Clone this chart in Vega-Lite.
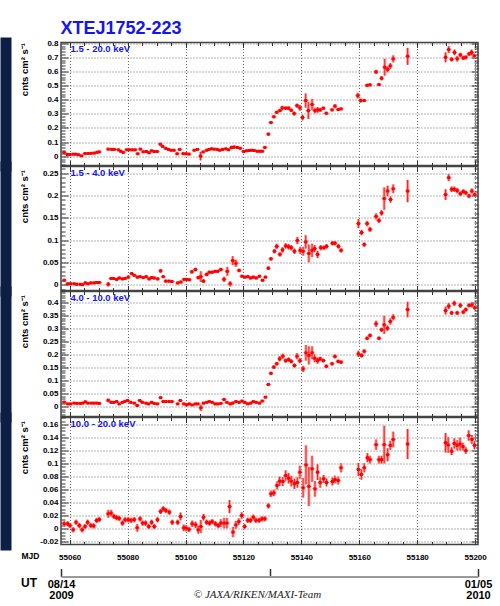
{
"$schema": "https://vega.github.io/schema/vega-lite/v6.json",
"background": "white",
"padding": {"left": 4, "top": 18.5, "right": 5, "bottom": 5},
"spacing": 1,
"bounds": "flush",
"datasets": {
"p1": [
{"t":55058.1,"r":0.026,"e":0.008},{"t":55059.2,"r":0.012,"e":0.008},{"t":55060.1,"r":0.012,"e":0.008},{"t":55061.2,"r":0.014,"e":0.008},{"t":55062.1,"r":0.014,"e":0.008},{"t":55063.0,"r":0.010,"e":0.008},{"t":55064.1,"r":0.002,"e":0.008},{"t":55065.3,"r":0.019,"e":0.008},{"t":55066.4,"r":0.019,"e":0.008},{"t":55067.4,"r":0.020,"e":0.008},{"t":55068.5,"r":0.022,"e":0.008},{"t":55069.5,"r":0.028,"e":0.008},{"t":55070.2,"r":0.030,"e":0.008},
{"t":55073.3,"r":0.050,"e":0.008},{"t":55074.5,"r":0.048,"e":0.008},{"t":55075.4,"r":0.048,"e":0.008},{"t":55076.8,"r":0.045,"e":0.008},{"t":55077.6,"r":0.035,"e":0.008},{"t":55078.5,"r":0.027,"e":0.008},{"t":55079.7,"r":0.045,"e":0.008},{"t":55080.6,"r":0.045,"e":0.008},{"t":55081.6,"r":0.045,"e":0.008},{"t":55082.6,"r":0.045,"e":0.008},{"t":55083.5,"r":0.017,"e":0.008},{"t":55084.4,"r":0.050,"e":0.008},{"t":55085.4,"r":0.031,"e":0.008},{"t":55086.5,"r":0.033,"e":0.008},{"t":55087.4,"r":0.024,"e":0.008},{"t":55088.3,"r":0.038,"e":0.008},{"t":55089.2,"r":0.033,"e":0.008},{"t":55090.2,"r":0.033,"e":0.008},
{"t":55091.3,"r":0.085,"e":0.008},{"t":55092.1,"r":0.069,"e":0.008},{"t":55093.2,"r":0.055,"e":0.008},{"t":55094.1,"r":0.048,"e":0.008},{"t":55095.0,"r":0.042,"e":0.008},{"t":55096.0,"r":0.042,"e":0.008},{"t":55097.1,"r":0.017,"e":0.008},{"t":55098.0,"r":0.048,"e":0.008},{"t":55099.2,"r":0.018,"e":0.008},{"t":55100.2,"r":0.017,"e":0.008},{"t":55101.2,"r":0.015,"e":0.008},
{"t":55103.0,"r":0.042,"e":0.008},{"t":55104.1,"r":0.048,"e":0.008},{"t":55105.2,"r":0.000,"e":0.03},{"t":55106.1,"r":0.030,"e":0.008},{"t":55107.3,"r":0.042,"e":0.008},{"t":55108.1,"r":0.048,"e":0.008},{"t":55109.0,"r":0.052,"e":0.008},{"t":55109.9,"r":0.050,"e":0.008},{"t":55110.9,"r":0.048,"e":0.008},{"t":55111.8,"r":0.042,"e":0.008},{"t":55112.8,"r":0.048,"e":0.008},{"t":55113.9,"r":0.052,"e":0.008},{"t":55114.8,"r":0.046,"e":0.008},{"t":55115.9,"r":0.062,"e":0.012},{"t":55116.8,"r":0.064,"e":0.012},{"t":55117.9,"r":0.062,"e":0.01},{"t":55118.9,"r":0.056,"e":0.008},{"t":55120.1,"r":0.033,"e":0.008},{"t":55121.0,"r":0.038,"e":0.008},{"t":55121.9,"r":0.040,"e":0.008},{"t":55122.8,"r":0.042,"e":0.008},{"t":55123.7,"r":0.040,"e":0.008},{"t":55124.8,"r":0.035,"e":0.008},{"t":55125.7,"r":0.035,"e":0.008},{"t":55126.5,"r":0.035,"e":0.008},{"t":55127.4,"r":0.062,"e":0.008},
{"t":55128.6,"r":0.156,"e":0.01},{"t":55129.5,"r":0.238,"e":0.01},{"t":55130.5,"r":0.279,"e":0.01},{"t":55131.5,"r":0.311,"e":0.01},{"t":55132.6,"r":0.323,"e":0.01},{"t":55133.4,"r":0.342,"e":0.015},{"t":55134.6,"r":0.340,"e":0.012},{"t":55135.6,"r":0.340,"e":0.012},{"t":55136.5,"r":0.325,"e":0.012},{"t":55137.5,"r":0.302,"e":0.015},{"t":55138.5,"r":0.358,"e":0.015},{"t":55139.5,"r":0.342,"e":0.02},{"t":55140.4,"r":0.274,"e":0.02},{"t":55141.5,"r":0.394,"e":0.05},{"t":55142.4,"r":0.323,"e":0.06},{"t":55143.7,"r":0.366,"e":0.04},{"t":55144.7,"r":0.323,"e":0.02},{"t":55145.6,"r":0.328,"e":0.02},{"t":55146.5,"r":0.328,"e":0.015},{"t":55147.6,"r":0.340,"e":0.01},{"t":55148.6,"r":0.304,"e":0.01},{"t":55150.6,"r":0.328,"e":0.01},{"t":55151.6,"r":0.354,"e":0.015},{"t":55152.7,"r":0.330,"e":0.01},{"t":55153.7,"r":0.335,"e":0.01},
{"t":55159.5,"r":0.429,"e":0.02},{"t":55160.5,"r":0.394,"e":0.015},{"t":55161.7,"r":0.394,"e":0.01},{"t":55162.7,"r":0.502,"e":0.01},{"t":55163.7,"r":0.505,"e":0.01},{"t":55165.8,"r":0.597,"e":0.015},{"t":55166.8,"r":0.507,"e":0.01},{"t":55167.7,"r":0.552,"e":0.015},{"t":55168.8,"r":0.630,"e":0.06},{"t":55169.8,"r":0.615,"e":0.02},{"t":55170.7,"r":0.639,"e":0.02},{"t":55171.7,"r":0.689,"e":0.025},{"t":55176.7,"r":0.707,"e":0.06},
{"t":55189.8,"r":0.700,"e":0.035},{"t":55190.9,"r":0.755,"e":0.025},{"t":55191.9,"r":0.686,"e":0.015},{"t":55192.9,"r":0.735,"e":0.02},{"t":55193.8,"r":0.690,"e":0.02},{"t":55194.9,"r":0.717,"e":0.015},{"t":55195.9,"r":0.696,"e":0.015},{"t":55196.8,"r":0.700,"e":0.015},{"t":55197.9,"r":0.724,"e":0.015},{"t":55198.8,"r":0.735,"e":0.02},{"t":55199.7,"r":0.710,"e":0.015}
],
"p2": [
{"t":55058.1,"r":0.010,"e":0.003},{"t":55059.3,"r":0.002,"e":0.003},{"t":55060.3,"r":0.002,"e":0.003},{"t":55061.5,"r":0.002,"e":0.003},{"t":55062.4,"r":0.001,"e":0.003},{"t":55063.6,"r":0.001,"e":0.003},{"t":55064.4,"r":0.000,"e":0.003},{"t":55065.4,"r":0.004,"e":0.003},{"t":55066.3,"r":0.002,"e":0.003},{"t":55067.3,"r":0.004,"e":0.003},{"t":55068.4,"r":0.004,"e":0.003},{"t":55069.3,"r":0.005,"e":0.003},{"t":55070.2,"r":0.005,"e":0.003},
{"t":55073.3,"r":0.001,"e":0.005},{"t":55074.3,"r":0.014,"e":0.003},{"t":55075.2,"r":0.014,"e":0.003},{"t":55076.2,"r":0.012,"e":0.003},{"t":55077.1,"r":0.015,"e":0.003},{"t":55078.2,"r":0.013,"e":0.003},{"t":55079.1,"r":0.014,"e":0.003},{"t":55080.2,"r":0.017,"e":0.003},{"t":55081.4,"r":0.025,"e":0.003},{"t":55082.3,"r":0.021,"e":0.003},{"t":55083.4,"r":0.017,"e":0.003},{"t":55084.3,"r":0.018,"e":0.003},{"t":55085.4,"r":0.016,"e":0.003},{"t":55086.4,"r":0.018,"e":0.003},{"t":55087.4,"r":0.013,"e":0.003},{"t":55088.3,"r":0.016,"e":0.003},{"t":55089.2,"r":0.015,"e":0.003},{"t":55090.4,"r":0.013,"e":0.003},
{"t":55091.4,"r":0.031,"e":0.004},{"t":55092.3,"r":0.018,"e":0.003},{"t":55093.2,"r":0.008,"e":0.003},{"t":55094.3,"r":0.008,"e":0.003},{"t":55095.3,"r":0.007,"e":0.003},{"t":55097.3,"r":0.004,"e":0.003},{"t":55098.4,"r":0.006,"e":0.003},{"t":55099.5,"r":0.012,"e":0.003},{"t":55100.4,"r":0.012,"e":0.003},{"t":55101.3,"r":0.011,"e":0.003},{"t":55102.2,"r":0.029,"e":0.004},{"t":55103.4,"r":0.034,"e":0.004},{"t":55104.4,"r":0.016,"e":0.004},{"t":55105.3,"r":0.018,"e":0.012},{"t":55106.2,"r":0.008,"e":0.004},{"t":55107.3,"r":0.023,"e":0.004},{"t":55108.2,"r":0.028,"e":0.003},{"t":55109.2,"r":0.028,"e":0.003},{"t":55110.2,"r":0.030,"e":0.003},{"t":55111.1,"r":0.030,"e":0.003},{"t":55112.2,"r":0.034,"e":0.004},{"t":55113.3,"r":0.012,"e":0.006},{"t":55114.4,"r":0.030,"e":0.01},{"t":55115.4,"r":0.002,"e":0.006},{"t":55116.3,"r":0.054,"e":0.01},{"t":55117.4,"r":0.048,"e":0.008},{"t":55118.5,"r":0.032,"e":0.004},{"t":55119.5,"r":0.019,"e":0.003},{"t":55120.5,"r":0.017,"e":0.003},{"t":55121.5,"r":0.018,"e":0.003},{"t":55122.5,"r":0.015,"e":0.003},{"t":55123.4,"r":0.017,"e":0.003},{"t":55124.4,"r":0.015,"e":0.003},{"t":55125.5,"r":0.019,"e":0.003},{"t":55126.6,"r":0.010,"e":0.003},{"t":55127.6,"r":0.017,"e":0.003},
{"t":55128.6,"r":0.037,"e":0.004},{"t":55129.5,"r":0.058,"e":0.004},{"t":55130.7,"r":0.075,"e":0.005},{"t":55131.5,"r":0.086,"e":0.006},{"t":55132.6,"r":0.068,"e":0.005},{"t":55133.5,"r":0.078,"e":0.006},{"t":55134.6,"r":0.087,"e":0.006},{"t":55135.6,"r":0.085,"e":0.006},{"t":55136.5,"r":0.083,"e":0.006},{"t":55137.6,"r":0.075,"e":0.006},{"t":55138.6,"r":0.099,"e":0.008},{"t":55139.6,"r":0.077,"e":0.008},{"t":55140.6,"r":0.075,"e":0.01},{"t":55141.5,"r":0.096,"e":0.015},{"t":55142.6,"r":0.070,"e":0.02},{"t":55143.7,"r":0.077,"e":0.015},{"t":55144.6,"r":0.081,"e":0.008},{"t":55145.6,"r":0.068,"e":0.008},{"t":55146.7,"r":0.083,"e":0.006},{"t":55147.8,"r":0.083,"e":0.005},{"t":55148.7,"r":0.086,"e":0.005},{"t":55150.7,"r":0.093,"e":0.005},{"t":55151.6,"r":0.093,"e":0.005},{"t":55152.8,"r":0.086,"e":0.005},{"t":55153.7,"r":0.077,"e":0.005},
{"t":55159.7,"r":0.137,"e":0.01},{"t":55160.8,"r":0.117,"e":0.006},{"t":55161.7,"r":0.090,"e":0.005},{"t":55162.7,"r":0.137,"e":0.006},{"t":55163.7,"r":0.124,"e":0.006},{"t":55165.8,"r":0.153,"e":0.007},{"t":55166.8,"r":0.144,"e":0.006},{"t":55167.7,"r":0.161,"e":0.006},{"t":55168.6,"r":0.193,"e":0.025},{"t":55169.8,"r":0.210,"e":0.012},{"t":55170.8,"r":0.191,"e":0.007},{"t":55171.7,"r":0.215,"e":0.01},{"t":55176.7,"r":0.210,"e":0.025},
{"t":55189.8,"r":0.202,"e":0.012},{"t":55190.9,"r":0.240,"e":0.008},{"t":55191.9,"r":0.214,"e":0.006},{"t":55192.8,"r":0.214,"e":0.006},{"t":55193.8,"r":0.211,"e":0.006},{"t":55194.9,"r":0.204,"e":0.005},{"t":55195.9,"r":0.209,"e":0.005},{"t":55196.8,"r":0.206,"e":0.005},{"t":55197.9,"r":0.199,"e":0.005},{"t":55198.9,"r":0.210,"e":0.006},{"t":55199.9,"r":0.202,"e":0.005}
],
"p3": [
{"t":55058.1,"r":0.017,"e":0.004},{"t":55059.3,"r":0.010,"e":0.004},{"t":55060.3,"r":0.010,"e":0.004},{"t":55061.5,"r":0.013,"e":0.004},{"t":55062.5,"r":0.012,"e":0.004},{"t":55063.6,"r":0.012,"e":0.004},{"t":55064.5,"r":0.013,"e":0.004},{"t":55065.4,"r":0.018,"e":0.004},{"t":55066.3,"r":0.013,"e":0.004},{"t":55067.4,"r":0.013,"e":0.004},{"t":55068.3,"r":0.013,"e":0.004},{"t":55069.3,"r":0.013,"e":0.004},{"t":55070.2,"r":0.012,"e":0.004},
{"t":55073.3,"r":0.024,"e":0.006},{"t":55074.3,"r":0.016,"e":0.004},{"t":55075.2,"r":0.016,"e":0.004},{"t":55076.2,"r":0.019,"e":0.004},{"t":55077.1,"r":0.010,"e":0.004},{"t":55078.2,"r":0.016,"e":0.004},{"t":55079.1,"r":0.020,"e":0.004},{"t":55080.0,"r":0.023,"e":0.004},{"t":55081.1,"r":0.016,"e":0.004},{"t":55082.3,"r":0.013,"e":0.004},{"t":55083.3,"r":0.004,"e":0.005},{"t":55084.2,"r":0.023,"e":0.004},{"t":55085.1,"r":0.016,"e":0.004},{"t":55086.3,"r":0.013,"e":0.004},{"t":55087.2,"r":0.010,"e":0.004},{"t":55088.3,"r":0.016,"e":0.004},{"t":55089.2,"r":0.012,"e":0.004},{"t":55090.3,"r":0.010,"e":0.004},
{"t":55091.4,"r":0.034,"e":0.004},{"t":55092.3,"r":0.019,"e":0.004},{"t":55093.2,"r":0.019,"e":0.004},{"t":55094.3,"r":0.019,"e":0.004},{"t":55095.3,"r":0.019,"e":0.004},{"t":55097.3,"r":0.010,"e":0.004},{"t":55098.2,"r":0.023,"e":0.005},{"t":55099.4,"r":0.010,"e":0.004},{"t":55100.4,"r":0.007,"e":0.004},{"t":55101.3,"r":0.010,"e":0.004},{"t":55102.3,"r":0.006,"e":0.004},{"t":55103.4,"r":0.010,"e":0.004},{"t":55104.3,"r":0.010,"e":0.004},{"t":55105.3,"r":-0.005,"e":0.012},{"t":55106.2,"r":0.013,"e":0.004},{"t":55107.3,"r":0.016,"e":0.004},{"t":55108.2,"r":0.019,"e":0.004},{"t":55109.2,"r":0.016,"e":0.004},{"t":55110.2,"r":0.010,"e":0.004},{"t":55111.1,"r":0.010,"e":0.004},{"t":55112.2,"r":0.012,"e":0.004},{"t":55113.3,"r":0.027,"e":0.005},{"t":55114.3,"r":0.016,"e":0.005},{"t":55115.4,"r":0.010,"e":0.005},{"t":55116.3,"r":0.013,"e":0.005},{"t":55117.4,"r":0.019,"e":0.006},{"t":55118.5,"r":0.016,"e":0.004},{"t":55119.5,"r":0.021,"e":0.004},{"t":55120.5,"r":0.016,"e":0.004},{"t":55121.5,"r":0.010,"e":0.004},{"t":55122.5,"r":0.013,"e":0.004},{"t":55123.4,"r":0.019,"e":0.004},{"t":55124.4,"r":0.016,"e":0.004},{"t":55125.5,"r":0.013,"e":0.004},{"t":55126.5,"r":0.021,"e":0.004},{"t":55127.6,"r":0.036,"e":0.004},
{"t":55128.6,"r":0.085,"e":0.005},{"t":55129.5,"r":0.128,"e":0.006},{"t":55130.5,"r":0.152,"e":0.007},{"t":55131.5,"r":0.165,"e":0.007},{"t":55132.5,"r":0.184,"e":0.01},{"t":55133.6,"r":0.194,"e":0.01},{"t":55134.6,"r":0.177,"e":0.008},{"t":55135.6,"r":0.181,"e":0.008},{"t":55136.5,"r":0.174,"e":0.008},{"t":55137.6,"r":0.158,"e":0.008},{"t":55138.5,"r":0.194,"e":0.012},{"t":55139.5,"r":0.177,"e":0.01},{"t":55140.6,"r":0.145,"e":0.012},{"t":55141.6,"r":0.207,"e":0.03},{"t":55142.6,"r":0.197,"e":0.035},{"t":55143.7,"r":0.207,"e":0.025},{"t":55144.6,"r":0.186,"e":0.015},{"t":55145.6,"r":0.177,"e":0.012},{"t":55146.5,"r":0.184,"e":0.008},{"t":55147.6,"r":0.177,"e":0.007},{"t":55148.6,"r":0.155,"e":0.007},{"t":55150.6,"r":0.165,"e":0.007},{"t":55151.6,"r":0.193,"e":0.008},{"t":55152.7,"r":0.174,"e":0.007},{"t":55153.7,"r":0.171,"e":0.007},
{"t":55159.7,"r":0.203,"e":0.012},{"t":55160.8,"r":0.197,"e":0.008},{"t":55161.7,"r":0.213,"e":0.008},{"t":55162.7,"r":0.263,"e":0.007},{"t":55163.7,"r":0.274,"e":0.008},{"t":55165.8,"r":0.319,"e":0.012},{"t":55166.8,"r":0.263,"e":0.007},{"t":55167.7,"r":0.296,"e":0.008},{"t":55168.6,"r":0.315,"e":0.035},{"t":55169.7,"r":0.302,"e":0.01},{"t":55170.7,"r":0.328,"e":0.012},{"t":55171.7,"r":0.344,"e":0.012},{"t":55176.7,"r":0.374,"e":0.03},
{"t":55189.8,"r":0.370,"e":0.015},{"t":55190.9,"r":0.387,"e":0.012},{"t":55191.9,"r":0.361,"e":0.008},{"t":55192.8,"r":0.398,"e":0.01},{"t":55193.8,"r":0.361,"e":0.008},{"t":55194.9,"r":0.390,"e":0.01},{"t":55195.9,"r":0.364,"e":0.008},{"t":55196.8,"r":0.374,"e":0.008},{"t":55197.9,"r":0.390,"e":0.008},{"t":55198.9,"r":0.392,"e":0.01},{"t":55199.9,"r":0.381,"e":0.008}
],
"p4": [
{"t":55058.1,"r":0.0077,"e":0.004},{"t":55059.3,"r":0.0077,"e":0.004},{"t":55060.1,"r":0.005,"e":0.004},{"t":55061.2,"r":-0.0015,"e":0.004},{"t":55062.2,"r":0.010,"e":0.004},{"t":55063.3,"r":0.005,"e":0.004},{"t":55064.3,"r":-0.0015,"e":0.004},{"t":55065.3,"r":0.0035,"e":0.004},{"t":55066.2,"r":0.010,"e":0.004},{"t":55067.3,"r":0.005,"e":0.004},{"t":55068.3,"r":0.0045,"e":0.004},{"t":55069.3,"r":0.0127,"e":0.004},{"t":55070.2,"r":0.0143,"e":0.004},
{"t":55073.3,"r":0.023,"e":0.006},{"t":55074.3,"r":0.024,"e":0.005},{"t":55075.3,"r":0.019,"e":0.004},{"t":55076.2,"r":0.017,"e":0.004},{"t":55077.1,"r":0.016,"e":0.004},{"t":55078.2,"r":0.0087,"e":0.004},{"t":55079.1,"r":0.0138,"e":0.004},{"t":55080.2,"r":0.0138,"e":0.004},{"t":55081.2,"r":0.013,"e":0.004},{"t":55082.3,"r":0.014,"e":0.004},{"t":55083.3,"r":0.0015,"e":0.006},{"t":55084.3,"r":0.0153,"e":0.004},{"t":55085.2,"r":0.0087,"e":0.004},{"t":55086.2,"r":0.0087,"e":0.004},{"t":55087.3,"r":0.0035,"e":0.004},{"t":55088.3,"r":0.010,"e":0.004},{"t":55089.2,"r":0.0035,"e":0.004},{"t":55090.3,"r":0.0138,"e":0.004},
{"t":55091.4,"r":0.0265,"e":0.004},{"t":55092.3,"r":0.0307,"e":0.004},{"t":55093.2,"r":0.028,"e":0.004},{"t":55094.4,"r":0.0255,"e":0.004},{"t":55095.4,"r":0.010,"e":0.004},{"t":55097.3,"r":0.010,"e":0.004},{"t":55098.3,"r":0.019,"e":0.006},{"t":55099.4,"r":0.0015,"e":0.005},{"t":55100.2,"r":0.001,"e":0.005},{"t":55101.2,"r":-0.001,"e":0.004},{"t":55102.3,"r":0.0077,"e":0.005},{"t":55103.5,"r":0.006,"e":0.005},{"t":55104.4,"r":-0.0015,"e":0.006},{"t":55105.3,"r":0.0035,"e":0.01},{"t":55106.2,"r":0.0178,"e":0.005},{"t":55107.3,"r":0.010,"e":0.004},{"t":55108.3,"r":0.0087,"e":0.004},{"t":55109.2,"r":0.011,"e":0.004},{"t":55110.3,"r":0.0077,"e":0.004},{"t":55111.3,"r":0.005,"e":0.004},{"t":55112.2,"r":0.0087,"e":0.006},{"t":55113.3,"r":0.0087,"e":0.008},{"t":55114.3,"r":0.0087,"e":0.008},{"t":55115.2,"r":0.034,"e":0.01},{"t":55116.4,"r":-0.005,"e":0.008},{"t":55117.4,"r":0.006,"e":0.006},{"t":55118.4,"r":0.011,"e":0.005},{"t":55119.4,"r":0.0204,"e":0.005},{"t":55120.4,"r":0.0035,"e":0.004},{"t":55121.5,"r":0.013,"e":0.004},{"t":55122.4,"r":0.013,"e":0.004},{"t":55123.4,"r":0.0178,"e":0.004},{"t":55124.3,"r":0.013,"e":0.004},{"t":55125.4,"r":0.013,"e":0.004},{"t":55126.4,"r":0.0153,"e":0.004},{"t":55127.4,"r":0.0153,"e":0.004},
{"t":55128.6,"r":0.0352,"e":0.004},{"t":55129.5,"r":0.0536,"e":0.005},{"t":55130.5,"r":0.055,"e":0.005},{"t":55131.6,"r":0.0664,"e":0.006},{"t":55132.5,"r":0.073,"e":0.007},{"t":55133.6,"r":0.0725,"e":0.007},{"t":55134.6,"r":0.0817,"e":0.008},{"t":55135.6,"r":0.0776,"e":0.008},{"t":55136.5,"r":0.073,"e":0.008},{"t":55137.6,"r":0.069,"e":0.008},{"t":55138.6,"r":0.071,"e":0.008},{"t":55139.5,"r":0.0868,"e":0.01},{"t":55140.6,"r":0.0629,"e":0.015},{"t":55141.6,"r":0.098,"e":0.03},{"t":55142.6,"r":0.065,"e":0.03},{"t":55143.7,"r":0.092,"e":0.02},{"t":55144.7,"r":0.0613,"e":0.012},{"t":55145.6,"r":0.0868,"e":0.012},{"t":55146.5,"r":0.071,"e":0.008},{"t":55147.7,"r":0.0767,"e":0.006},{"t":55148.7,"r":0.071,"e":0.006},{"t":55150.7,"r":0.0725,"e":0.006},{"t":55151.6,"r":0.0756,"e":0.006},{"t":55152.7,"r":0.074,"e":0.006},{"t":55153.7,"r":0.0936,"e":0.007},
{"t":55159.7,"r":0.091,"e":0.01},{"t":55160.7,"r":0.0833,"e":0.008},{"t":55161.7,"r":0.0936,"e":0.007},{"t":55162.8,"r":0.109,"e":0.007},{"t":55163.7,"r":0.106,"e":0.006},{"t":55165.8,"r":0.129,"e":0.008},{"t":55166.8,"r":0.106,"e":0.006},{"t":55167.7,"r":0.106,"e":0.006},{"t":55168.6,"r":0.129,"e":0.029},{"t":55169.8,"r":0.1135,"e":0.01},{"t":55170.7,"r":0.128,"e":0.007},{"t":55171.7,"r":0.137,"e":0.012},{"t":55176.7,"r":0.130,"e":0.023},
{"t":55189.8,"r":0.132,"e":0.015},{"t":55190.7,"r":0.1285,"e":0.012},{"t":55191.9,"r":0.119,"e":0.006},{"t":55192.8,"r":0.131,"e":0.008},{"t":55193.8,"r":0.128,"e":0.008},{"t":55194.8,"r":0.130,"e":0.01},{"t":55195.8,"r":0.126,"e":0.006},{"t":55196.8,"r":0.120,"e":0.005},{"t":55197.8,"r":0.143,"e":0.008},{"t":55198.9,"r":0.137,"e":0.007},{"t":55199.8,"r":0.128,"e":0.006}
]
},
"vconcat": [
{
"width": 417, "height": 123,
"data": {"name": "p1"},
"resolve": {"axis": {"x": "independent", "y": "independent"}},
"layer": [
{
"encoding": {
"x": {"field": "t", "type": "quantitative", "scale": {"domain": [55057, 55201], "nice": false, "zero": false},
"axis": {"values": [55060,55080,55100,55120,55140,55160,55180,55200], "labels": false, "grid": true, "tickSize": -5, "title": "1.5 - 20.0 keV", "titleColor": "#1414f5", "titleX": 9, "titleY": -114.3, "titleAlign": "left", "titleBaseline": "alphabetic"}},
"y": {"field": "r", "type": "quantitative", "scale": {"domain": [-0.066, 0.805], "nice": false, "zero": false},
"axis": {"values": [0,0.1,0.2,0.3,0.4,0.5,0.6,0.7,0.8], "labelExpr": "'' + datum.value", "grid": true, "tickSize": -7, "labelPadding": 10, "title": "cnts cm² s⁻¹", "titleX": -33.5, "titleY": 0, "titleAngle": -90, "titleAlign": "right", "titleBaseline": "alphabetic"}}
},
"layer": [
{"mark": {"type": "errorbar", "color": "#f6a0a0", "thickness": 3}, "encoding": {"yError": {"field": "e"}}},
{"mark": {"type": "errorbar", "color": "#ff1a1a", "thickness": 1}, "encoding": {"yError": {"field": "e"}}},
{"mark": {"type": "tick", "orient": "horizontal", "color": "#ff0000", "size": 5, "thickness": 1}},
{"mark": {"type": "square", "color": "#ff0000", "size": 9, "opacity": 1}}
]
},
{
"mark": {"type": "point", "opacity": 0},
"encoding": {
"x": {"field": "t", "type": "quantitative", "scale": {"domain": [55057, 55201], "nice": false, "zero": false}, "axis": null},
"y": {"field": "r", "type": "quantitative", "scale": {"domain": [-0.066, 0.805], "nice": false, "zero": false},
"axis": {"orient": "left", "offset": 55.5, "domain": true, "domainColor": "#0d1e46", "domainWidth": 11, "domainCap": "square", "ticks": false, "labels": false, "grid": false, "title": null}}
}
},
{
"mark": {"type": "point", "opacity": 0},
"encoding": {
"x": {"field": "t", "type": "quantitative", "scale": {"domain": [55057, 55201], "nice": false, "zero": false},
"axis": {"orient": "bottom", "values": [55065,55070,55075,55085,55090,55095,55105,55110,55115,55125,55130,55135,55145,55150,55155,55165,55170,55175,55185,55190,55195], "tickSize": -3, "labels": false, "grid": false, "title": null}},
"y": {"field": "r", "type": "quantitative", "scale": {"domain": [-0.066, 0.805], "nice": false, "zero": false},
"axis": {"orient": "left", "values": [-0.06,-0.04,-0.02,0.02,0.04,0.06,0.08,0.12,0.14,0.16,0.18,0.22,0.24,0.26,0.28,0.32,0.34,0.36,0.38,0.42,0.44,0.46,0.48,0.52,0.54,0.56,0.58,0.62,0.64,0.66,0.68,0.72,0.74,0.76,0.78], "tickSize": -4, "labels": false, "grid": false, "title": null}}
}
},
{
"mark": {"type": "point", "opacity": 0},
"encoding": {
"x": {"field": "t", "type": "quantitative", "scale": {"domain": [55057, 55201], "nice": false, "zero": false},
"axis": {"orient": "top", "values": [55060,55080,55100,55120,55140,55160,55180,55200], "tickSize": -5, "labels": false, "grid": false, "title": "XTEJ1752-223", "titleColor": "#1414f5", "titleFontSize": 18, "titleX": -1, "titleY": -9, "titleAlign": "left", "titleBaseline": "alphabetic"}},
"y": {"field": "r", "type": "quantitative", "scale": {"domain": [-0.066, 0.805], "nice": false, "zero": false},
"axis": {"orient": "right", "values": [0,0.1,0.2,0.3,0.4,0.5,0.6,0.7,0.8], "tickSize": -7, "labels": false, "grid": false, "title": null}}
}
},
{
"mark": {"type": "point", "opacity": 0},
"encoding": {
"x": {"field": "t", "type": "quantitative", "scale": {"domain": [55057, 55201], "nice": false, "zero": false},
"axis": {"orient": "top", "values": [55065,55070,55075,55085,55090,55095,55105,55110,55115,55125,55130,55135,55145,55150,55155,55165,55170,55175,55185,55190,55195], "tickSize": -3, "labels": false, "grid": false, "title": null}},
"y": {"field": "r", "type": "quantitative", "scale": {"domain": [-0.066, 0.805], "nice": false, "zero": false},
"axis": {"orient": "right", "values": [-0.06,-0.04,-0.02,0.02,0.04,0.06,0.08,0.12,0.14,0.16,0.18,0.22,0.24,0.26,0.28,0.32,0.34,0.36,0.38,0.42,0.44,0.46,0.48,0.52,0.54,0.56,0.58,0.62,0.64,0.66,0.68,0.72,0.74,0.76,0.78], "tickSize": -4, "labels": false, "grid": false, "title": null}}
}
}
]
},
{
"width": 417, "height": 124,
"data": {"name": "p2"},
"resolve": {"axis": {"x": "independent", "y": "independent"}},
"layer": [
{
"encoding": {
"x": {"field": "t", "type": "quantitative", "scale": {"domain": [55057, 55201], "nice": false, "zero": false},
"axis": {"values": [55060,55080,55100,55120,55140,55160,55180,55200], "labels": false, "grid": true, "tickSize": -5, "title": "1.5 - 4.0 keV", "titleColor": "#1414f5", "titleX": 9, "titleY": -115.3, "titleAlign": "left", "titleBaseline": "alphabetic"}},
"y": {"field": "r", "type": "quantitative", "scale": {"domain": [-0.013, 0.265], "nice": false, "zero": false},
"axis": {"values": [0,0.05,0.1,0.15,0.2,0.25], "labelExpr": "'' + datum.value", "grid": true, "tickSize": -7, "labelPadding": 10, "title": "cnts cm² s⁻¹", "titleX": -33.5, "titleY": 3, "titleAngle": -90, "titleAlign": "right", "titleBaseline": "alphabetic"}}
},
"layer": [
{"mark": {"type": "errorbar", "color": "#f6a0a0", "thickness": 3}, "encoding": {"yError": {"field": "e"}}},
{"mark": {"type": "errorbar", "color": "#ff1a1a", "thickness": 1}, "encoding": {"yError": {"field": "e"}}},
{"mark": {"type": "tick", "orient": "horizontal", "color": "#ff0000", "size": 5, "thickness": 1}},
{"mark": {"type": "square", "color": "#ff0000", "size": 9, "opacity": 1}}
]
},
{
"mark": {"type": "point", "opacity": 0},
"encoding": {
"x": {"field": "t", "type": "quantitative", "scale": {"domain": [55057, 55201], "nice": false, "zero": false}, "axis": null},
"y": {"field": "r", "type": "quantitative", "scale": {"domain": [-0.013, 0.265], "nice": false, "zero": false},
"axis": {"orient": "left", "offset": 55.5, "domain": true, "domainColor": "#0d1e46", "domainWidth": 11, "domainCap": "square", "ticks": false, "labels": false, "grid": false, "title": null}}
}
},
{
"mark": {"type": "point", "opacity": 0},
"encoding": {
"x": {"field": "t", "type": "quantitative", "scale": {"domain": [55057, 55201], "nice": false, "zero": false},
"axis": {"orient": "bottom", "values": [55065,55070,55075,55085,55090,55095,55105,55110,55115,55125,55130,55135,55145,55150,55155,55165,55170,55175,55185,55190,55195], "tickSize": -3, "labels": false, "grid": false, "title": null}},
"y": {"field": "r", "type": "quantitative", "scale": {"domain": [-0.013, 0.265], "nice": false, "zero": false},
"axis": {"orient": "left", "values": [-0.01,0.01,0.02,0.03,0.04,0.06,0.07,0.08,0.09,0.11,0.12,0.13,0.14,0.16,0.17,0.18,0.19,0.21,0.22,0.23,0.24,0.26], "tickSize": -4, "labels": false, "grid": false, "title": null}}
}
},
{
"mark": {"type": "point", "opacity": 0},
"encoding": {
"x": {"field": "t", "type": "quantitative", "scale": {"domain": [55057, 55201], "nice": false, "zero": false},
"axis": {"orient": "top", "values": [55060,55080,55100,55120,55140,55160,55180,55200], "tickSize": -5, "labels": false, "grid": false, "title": null}},
"y": {"field": "r", "type": "quantitative", "scale": {"domain": [-0.013, 0.265], "nice": false, "zero": false},
"axis": {"orient": "right", "values": [0,0.05,0.1,0.15,0.2,0.25], "tickSize": -7, "labels": false, "grid": false, "title": null}}
}
},
{
"mark": {"type": "point", "opacity": 0},
"encoding": {
"x": {"field": "t", "type": "quantitative", "scale": {"domain": [55057, 55201], "nice": false, "zero": false},
"axis": {"orient": "top", "values": [55065,55070,55075,55085,55090,55095,55105,55110,55115,55125,55130,55135,55145,55150,55155,55165,55170,55175,55185,55190,55195], "tickSize": -3, "labels": false, "grid": false, "title": null}},
"y": {"field": "r", "type": "quantitative", "scale": {"domain": [-0.013, 0.265], "nice": false, "zero": false},
"axis": {"orient": "right", "values": [-0.01,0.01,0.02,0.03,0.04,0.06,0.07,0.08,0.09,0.11,0.12,0.13,0.14,0.16,0.17,0.18,0.19,0.21,0.22,0.23,0.24,0.26], "tickSize": -4, "labels": false, "grid": false, "title": null}}
}
}
]
},
{
"width": 417, "height": 125,
"data": {"name": "p3"},
"resolve": {"axis": {"x": "independent", "y": "independent"}},
"layer": [
{
"encoding": {
"x": {"field": "t", "type": "quantitative", "scale": {"domain": [55057, 55201], "nice": false, "zero": false},
"axis": {"values": [55060,55080,55100,55120,55140,55160,55180,55200], "labels": false, "grid": true, "tickSize": -5, "title": "4.0 - 10.0 keV", "titleColor": "#1414f5", "titleX": 9, "titleY": -116.3, "titleAlign": "left", "titleBaseline": "alphabetic"}},
"y": {"field": "r", "type": "quantitative", "scale": {"domain": [-0.0386, 0.4436], "nice": false, "zero": false},
"axis": {"values": [0,0.05,0.1,0.15,0.2,0.25,0.3,0.35,0.4], "labelExpr": "'' + datum.value", "grid": true, "tickSize": -7, "labelPadding": 10, "title": "cnts cm² s⁻¹", "titleX": -33.5, "titleY": 3, "titleAngle": -90, "titleAlign": "right", "titleBaseline": "alphabetic"}}
},
"layer": [
{"mark": {"type": "errorbar", "color": "#f6a0a0", "thickness": 3}, "encoding": {"yError": {"field": "e"}}},
{"mark": {"type": "errorbar", "color": "#ff1a1a", "thickness": 1}, "encoding": {"yError": {"field": "e"}}},
{"mark": {"type": "tick", "orient": "horizontal", "color": "#ff0000", "size": 5, "thickness": 1}},
{"mark": {"type": "square", "color": "#ff0000", "size": 9, "opacity": 1}}
]
},
{
"mark": {"type": "point", "opacity": 0},
"encoding": {
"x": {"field": "t", "type": "quantitative", "scale": {"domain": [55057, 55201], "nice": false, "zero": false}, "axis": null},
"y": {"field": "r", "type": "quantitative", "scale": {"domain": [-0.0386, 0.4436], "nice": false, "zero": false},
"axis": {"orient": "left", "offset": 55.5, "domain": true, "domainColor": "#0d1e46", "domainWidth": 11, "domainCap": "square", "ticks": false, "labels": false, "grid": false, "title": null}}
}
},
{
"mark": {"type": "point", "opacity": 0},
"encoding": {
"x": {"field": "t", "type": "quantitative", "scale": {"domain": [55057, 55201], "nice": false, "zero": false},
"axis": {"orient": "bottom", "values": [55065,55070,55075,55085,55090,55095,55105,55110,55115,55125,55130,55135,55145,55150,55155,55165,55170,55175,55185,55190,55195], "tickSize": -3, "labels": false, "grid": false, "title": null}},
"y": {"field": "r", "type": "quantitative", "scale": {"domain": [-0.0386, 0.4436], "nice": false, "zero": false},
"axis": {"orient": "left", "values": [-0.03,-0.02,-0.01,0.01,0.02,0.03,0.04,0.06,0.07,0.08,0.09,0.11,0.12,0.13,0.14,0.16,0.17,0.18,0.19,0.21,0.22,0.23,0.24,0.26,0.27,0.28,0.29,0.31,0.32,0.33,0.34,0.36,0.37,0.38,0.39,0.41,0.42,0.43,0.44], "tickSize": -4, "labels": false, "grid": false, "title": null}}
}
},
{
"mark": {"type": "point", "opacity": 0},
"encoding": {
"x": {"field": "t", "type": "quantitative", "scale": {"domain": [55057, 55201], "nice": false, "zero": false},
"axis": {"orient": "top", "values": [55060,55080,55100,55120,55140,55160,55180,55200], "tickSize": -5, "labels": false, "grid": false, "title": null}},
"y": {"field": "r", "type": "quantitative", "scale": {"domain": [-0.0386, 0.4436], "nice": false, "zero": false},
"axis": {"orient": "right", "values": [0,0.05,0.1,0.15,0.2,0.25,0.3,0.35,0.4], "tickSize": -7, "labels": false, "grid": false, "title": null}}
}
},
{
"mark": {"type": "point", "opacity": 0},
"encoding": {
"x": {"field": "t", "type": "quantitative", "scale": {"domain": [55057, 55201], "nice": false, "zero": false},
"axis": {"orient": "top", "values": [55065,55070,55075,55085,55090,55095,55105,55110,55115,55125,55130,55135,55145,55150,55155,55165,55170,55175,55185,55190,55195], "tickSize": -3, "labels": false, "grid": false, "title": null}},
"y": {"field": "r", "type": "quantitative", "scale": {"domain": [-0.0386, 0.4436], "nice": false, "zero": false},
"axis": {"orient": "right", "values": [-0.03,-0.02,-0.01,0.01,0.02,0.03,0.04,0.06,0.07,0.08,0.09,0.11,0.12,0.13,0.14,0.16,0.17,0.18,0.19,0.21,0.22,0.23,0.24,0.26,0.27,0.28,0.29,0.31,0.32,0.33,0.34,0.36,0.37,0.38,0.39,0.41,0.42,0.43,0.44], "tickSize": -4, "labels": false, "grid": false, "title": null}}
}
}
]
},
{
"width": 417, "height": 127,
"data": {"name": "p4"},
"resolve": {"scale": {"x": "independent"}, "axis": {"x": "independent", "y": "independent"}},
"layer": [
{
"encoding": {
"x": {"field": "t", "type": "quantitative", "scale": {"domain": [55057, 55201], "nice": false, "zero": false},
"axis": {"values": [55060,55080,55100,55120,55140,55160,55180,55200], "format": "d", "labelFontSize": 8, "labelPadding": 14, "labelBaseline": "top", "labelFlush": false, "title": "MJD", "titleFontSize": 8.5, "titleFontWeight": "bold", "titleX": -31, "titleY": 11, "titleAlign": "center", "titleBaseline": "middle", "grid": true, "tickSize": -5}},
"y": {"field": "r", "type": "quantitative", "scale": {"domain": [-0.0241, 0.1707], "nice": false, "zero": false},
"axis": {"values": [-0.02,0,0.02,0.04,0.06,0.08,0.1,0.12,0.14,0.16], "labelExpr": "'' + datum.value", "grid": true, "tickSize": -7, "labelPadding": 10, "title": "cnts cm² s⁻¹", "titleX": -33.5, "titleY": 3, "titleAngle": -90, "titleAlign": "right", "titleBaseline": "alphabetic"}}
},
"layer": [
{"mark": {"type": "errorbar", "color": "#f6a0a0", "thickness": 3}, "encoding": {"yError": {"field": "e"}}},
{"mark": {"type": "errorbar", "color": "#ff1a1a", "thickness": 1}, "encoding": {"yError": {"field": "e"}}},
{"mark": {"type": "tick", "orient": "horizontal", "color": "#ff0000", "size": 5, "thickness": 1}},
{"mark": {"type": "square", "color": "#ff0000", "size": 9, "opacity": 1}}
]
},
{
"mark": {"type": "point", "opacity": 0},
"encoding": {
"x": {"field": "t", "type": "quantitative", "scale": {"domain": [55057, 55201], "nice": false, "zero": false},
"axis": {"orient": "bottom", "offset": 32, "values": [55057, 55129, 55201], "domain": true, "domainColor": "#9a9a9a", "domainWidth": 2, "tickSize": -8, "tickColor": "#333", "tickWidth": 1.5, "grid": false, "labelExpr": "datum.value < 55100 ? ['08/14', '2009'] : datum.value > 55150 ? ['01/05', '2010'] : ''", "labelFontSize": 11, "labelLineHeight": 11, "labelFlush": false, "labelOverlap": false, "labelBound": false, "labelPadding": 9.5, "labelBaseline": "top", "title": "© JAXA/RIKEN/MAXI-Team", "titleFont": "Liberation Serif", "titleFontStyle": "italic", "titleFontWeight": "normal", "titleFontSize": 11, "titleColor": "#222", "titleX": 196, "titleY": 21, "titleAlign": "center", "titleBaseline": "alphabetic"}},
"y": {"field": "r", "type": "quantitative", "scale": {"domain": [-0.0241, 0.1707], "nice": false, "zero": false},
"axis": {"orient": "left", "title": "UT", "labels": false, "ticks": false, "grid": false, "domain": false, "titleAngle": 0, "titleX": -32.5, "titleY": 165, "titleAlign": "center", "titleBaseline": "middle", "titleFontSize": 12, "titleFontWeight": "bold"}}
}
},
{
"mark": {"type": "point", "opacity": 0},
"encoding": {
"x": {"field": "t", "type": "quantitative", "scale": {"domain": [55057, 55201], "nice": false, "zero": false}, "axis": null},
"y": {"field": "r", "type": "quantitative", "scale": {"domain": [-0.0241, 0.1707], "nice": false, "zero": false},
"axis": {"orient": "left", "offset": 55.5, "domain": true, "domainColor": "#0d1e46", "domainWidth": 11, "domainCap": "square", "ticks": false, "labels": false, "grid": false, "title": null}}
}
},
{
"mark": {"type": "point", "opacity": 0},
"encoding": {
"x": {"field": "t", "type": "quantitative", "scale": {"domain": [55057, 55201], "nice": false, "zero": false},
"axis": {"orient": "bottom", "values": [55065,55070,55075,55085,55090,55095,55105,55110,55115,55125,55130,55135,55145,55150,55155,55165,55170,55175,55185,55190,55195], "tickSize": -3, "labels": false, "grid": false, "title": null}},
"y": {"field": "r", "type": "quantitative", "scale": {"domain": [-0.0241, 0.1707], "nice": false, "zero": false},
"axis": {"orient": "left", "values": [-0.015,-0.01,-0.005,0.005,0.01,0.015,0.025,0.03,0.035,0.045,0.05,0.055,0.065,0.07,0.075,0.085,0.09,0.095,0.105,0.11,0.115,0.125,0.13,0.135,0.145,0.15,0.155,0.165,0.17], "tickSize": -4, "labels": false, "grid": false, "title": "10.0 - 20.0 keV", "titleColor": "#1414f5", "titleAngle": 0, "titleX": 9, "titleY": 8.7, "titleAlign": "left", "titleBaseline": "alphabetic"}}
}
},
{
"mark": {"type": "point", "opacity": 0},
"encoding": {
"x": {"field": "t", "type": "quantitative", "scale": {"domain": [55057, 55201], "nice": false, "zero": false},
"axis": {"orient": "top", "values": [55060,55080,55100,55120,55140,55160,55180,55200], "tickSize": -5, "labels": false, "grid": false, "title": null}},
"y": {"field": "r", "type": "quantitative", "scale": {"domain": [-0.0241, 0.1707], "nice": false, "zero": false},
"axis": {"orient": "right", "values": [-0.02,0,0.02,0.04,0.06,0.08,0.1,0.12,0.14,0.16], "tickSize": -7, "labels": false, "grid": false, "title": null}}
}
},
{
"mark": {"type": "point", "opacity": 0},
"encoding": {
"x": {"field": "t", "type": "quantitative", "scale": {"domain": [55057, 55201], "nice": false, "zero": false},
"axis": {"orient": "top", "values": [55065,55070,55075,55085,55090,55095,55105,55110,55115,55125,55130,55135,55145,55150,55155,55165,55170,55175,55185,55190,55195], "tickSize": -3, "labels": false, "grid": false, "title": null}},
"y": {"field": "r", "type": "quantitative", "scale": {"domain": [-0.0241, 0.1707], "nice": false, "zero": false},
"axis": {"orient": "right", "values": [-0.015,-0.01,-0.005,0.005,0.01,0.015,0.025,0.03,0.035,0.045,0.05,0.055,0.065,0.07,0.075,0.085,0.09,0.095,0.105,0.11,0.115,0.125,0.13,0.135,0.145,0.15,0.155,0.165,0.17], "tickSize": -4, "labels": false, "grid": false, "title": null}}
}
}
]
}
],
"config": {
"font": "Liberation Sans",
"view": {"stroke": "#444", "strokeWidth": 1.5},
"axis": {"labelFont": "Liberation Sans", "labelFontWeight": "bold", "labelFontSize": 8, "labelColor": "#000", "tickColor": "#333", "tickWidth": 1, "domain": false, "gridColor": "#6a6a6a", "gridDash": [1, 2], "gridWidth": 1, "gridOpacity": 1, "titleFont": "Liberation Sans", "titleFontSize": 9.5, "titleFontWeight": "bold", "titleColor": "#000", "labelOverlap": false}
}
}
